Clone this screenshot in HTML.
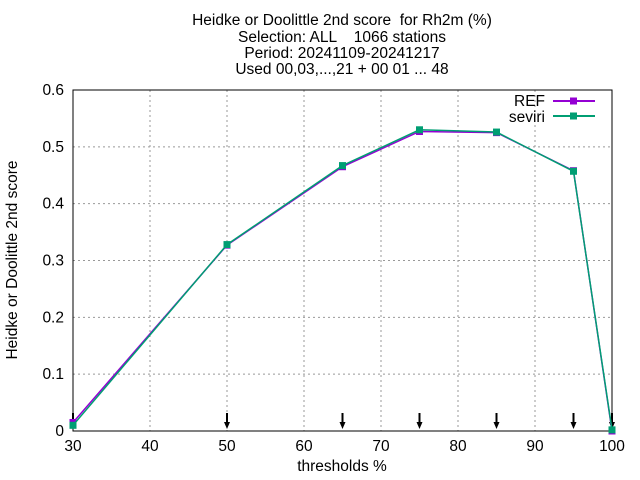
<!DOCTYPE html>
<html><head><meta charset="utf-8"><style>
body{margin:0;background:#fff}
svg{display:block;font-family:"Liberation Sans",sans-serif}
text{white-space:pre}
</style></head><body>
<svg id="c" width="640" height="480">
<g font-size="15.5" text-anchor="middle" fill="#000">
<text x="342" y="25">Heidke or Doolittle 2nd score  for Rh2m (%)</text>
<text x="342" y="42">Selection: ALL    1066 stations</text>
<text x="342" y="58">Period: 20241109-20241217</text>
<text x="342" y="74">Used 00,03,...,21 + 00 01 ... 48</text>
</g>
<text transform="translate(17,260) rotate(-90)" font-size="15.5" text-anchor="middle">Heidke or Doolittle 2nd score</text>
<text x="342" y="471" font-size="15.5" text-anchor="middle">thresholds %</text>
<g id="grid"></g><g id="axes"></g><g id="marks"></g>
<g font-size="15.5">
<text x="545" y="106" text-anchor="end">REF</text>
<line x1="553" y1="101" x2="595" y2="101" stroke="#9400d3" stroke-width="2"/>
<rect x="570" y="97.5" width="7" height="7" fill="#9400d3"/>
<text x="545" y="122" text-anchor="end">seviri</text>
<line x1="553" y1="116" x2="595" y2="116" stroke="#009e73" stroke-width="2"/>
<rect x="570" y="112.5" width="7" height="7" fill="#009e73"/>
</g>
</svg>
<script>
const categories=[30,50,65,75,85,95,100];
const refValues=[0.015,0.327,0.465,0.527,0.525,0.458,0.0];
const seviriValues=[0.010,0.328,0.467,0.530,0.526,0.457,0.002];
const xTicks=[30,40,50,60,70,80,90,100];
const yTicks=[0,0.1,0.2,0.3,0.4,0.5,0.6];
const arrowX=[30,50,65,75,85,95,100];
const L=73,R=612,T=90,B=431;
const xs=v=>L+(v-30)/70*(R-L);
const ys=v=>B-v/0.6*(B-T);
const NS="http://www.w3.org/2000/svg";
function mk(p,t,a){const e=document.createElementNS(NS,t);for(const k in a)e.setAttribute(k,a[k]);p.appendChild(e);return e;}
const grid=document.getElementById('grid'),axes=document.getElementById('axes'),marks=document.getElementById('marks');
xTicks.forEach(v=>{const x=xs(v);
 if(v>30&&v<100){const g=mk(grid,'line',{x1:x,y1:T,x2:x,y2:B,stroke:'#999','stroke-dasharray':'2,3','stroke-width':1});
 
 }
 const t=mk(axes,'text',{x:x,y:B+20,'font-size':15.5,'text-anchor':'middle'});t.textContent=v;
 
 
});
yTicks.forEach(v=>{const y=ys(v);
 if(v>0&&v<0.6){const g=mk(grid,'line',{x1:L,y1:y,x2:R,y2:y,stroke:'#999','stroke-dasharray':'2,3','stroke-width':1});
 
 }
 const t=mk(axes,'text',{x:L-9,y:y+5,'font-size':15.5,'text-anchor':'end'});t.textContent=v===0?'0':v.toFixed(1);
 
 
});
const fr=mk(axes,'rect',{x:L,y:T,width:R-L,height:B-T,fill:'none',stroke:'#000','stroke-width':1});


arrowX.forEach(v=>{const x=xs(v);
 const a=mk(marks,'g',{});
 
 
 mk(a,'line',{x1:x,y1:413,x2:x,y2:424,stroke:'#000','stroke-width':2});
 mk(a,'polygon',{points:`${x-3},${422} ${x+3},${422} ${x},${429}`,fill:'#000'});
});
function series(vals,col,name){
 const pts=vals.map((v,i)=>xs(categories[i])+','+ys(v)).join(' ');
 const p=mk(marks,'polyline',{points:pts,fill:'none',stroke:col,'stroke-width':1.5});
 
 
 vals.forEach((v,i)=>{const r=mk(marks,'rect',{x:xs(categories[i])-3.5,y:ys(v)-3.5,width:7,height:7,fill:col});
 
 });
}
series(refValues,'#9400d3','ref');
series(seviriValues,'#009e73','seviri');
</script>
</body></html>
